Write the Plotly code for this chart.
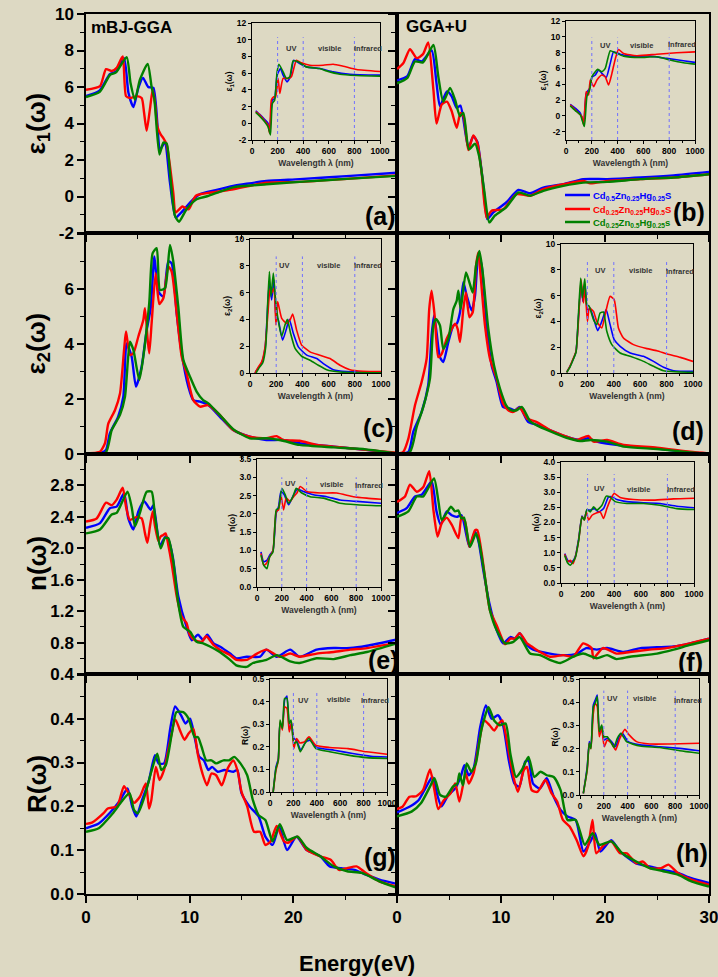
import plotly.graph_objects as go

# ---------------- main panel data: (energy eV, value) ----------------
a_blue = [(0,5.5),(1.3,5.8),(2.3,6.7),(2.9,6.85),(3.67,7.58),(4.1,5.67),(4.57,4.9),(5.05,5.95),(5.5,6.5),(6.0,6.0),(6.5,5.95),(7.15,2.58),(7.6,2.95),(8.1,0.76),(8.65,-1.15),(9.2,-0.87),(10.35,-0.15),(11.0,0.13),(12.5,0.35),(14.2,0.58),(15.5,0.7),(17.4,0.85),(20.6,0.95),(25.5,1.13),(30,1.3)]
a_red = [(0,5.85),(1.35,6.05),(1.93,6.98),(2.48,6.88),(2.96,7.05),(3.54,7.67),(3.86,5.5),(4.24,5.4),(4.89,5.5),(5.37,5.4),(5.6,4.6),(5.85,3.6),(6.17,4.8),(6.43,5.85),(6.66,5.1),(6.88,3.85),(7.2,3.4),(7.46,3.2),(7.78,2.85),(8.1,1.67),(8.42,0.2),(8.65,-0.87),(9.3,-0.55),(9.9,-0.7),(10.6,0.04),(12.5,0.25),(14.2,0.4),(17.4,0.76),(20.6,0.8),(25.5,0.98),(30,1.16)]
a_green = [(0,5.45),(1.35,5.75),(2.33,6.67),(2.9,6.8),(3.92,7.64),(4.3,6.2),(4.73,5.3),(5.2,6.4),(5.95,7.27),(6.33,6.0),(6.6,5.3),(7.08,2.3),(7.46,2.95),(7.78,2.9),(8.1,1.3),(8.58,-1.05),(8.97,-1.38),(9.7,-0.7),(10.67,-0.15),(11.6,0.0),(12.6,0.2),(14.2,0.5),(17.4,0.67),(20.6,0.8),(25.5,0.98),(30,1.13)]

b_blue = [(0,6.36),(1.0,6.6),(1.73,7.53),(2.37,7.4),(3.33,8.0),(3.8,6.2),(4.13,4.95),(4.8,5.76),(5.26,5.49),(5.74,4.85),(6.1,4.98),(6.86,2.67),(7.34,3.3),(7.72,3.0),(8.3,0.58),(8.69,-1.24),(9.26,-0.87),(10.5,-0.33),(11.67,0.36),(12.8,0.18),(14.07,0.49),(16.0,0.67),(17.9,0.95),(20.2,0.95),(23.4,1.04),(26.6,1.16),(30,1.35)]
b_red = [(0,6.98),(0.6,7.3),(1.25,8.07),(1.9,7.58),(2.5,7.8),(3.0,8.44),(3.5,5.85),(3.8,4.0),(4.3,5.04),(4.8,5.2),(5.26,4.67),(5.74,3.76),(6.1,4.58),(6.4,4.4),(6.86,2.55),(7.34,3.35),(7.72,2.95),(8.14,1.3),(8.62,-1.15),(9.1,-0.78),(10.2,-0.7),(11.5,0.13),(12.8,0.04),(14.07,0.4),(16.0,0.67),(17.9,0.85),(18.6,0.72),(20.2,0.85),(23.4,0.95),(26.6,1.04),(30,1.22)]
b_green = [(0,6.2),(1.0,6.5),(1.73,7.4),(2.5,7.35),(3.5,8.3),(3.97,6.58),(4.45,5.2),(5.1,5.95),(5.58,5.3),(6.06,4.4),(6.38,4.58),(6.92,2.58),(7.5,2.9),(7.9,2.2),(8.37,0.4),(8.88,-1.42),(9.4,-1.05),(10.5,-0.6),(11.67,0.22),(12.8,0.04),(14.07,0.31),(16.0,0.58),(17.9,0.76),(20.2,0.8),(23.4,0.95),(26.6,1.04),(30,1.22)]

c_blue = [(0,0.0),(1.35,0.03),(1.93,0.15),(2.3,0.75),(3.1,1.36),(3.6,2.08),(3.92,4.02),(4.4,3.54),(4.82,2.45),(5.37,3.18),(5.85,4.5),(6.24,5.3),(6.6,7.18),(6.98,5.9),(7.46,5.72),(7.94,7.0),(8.26,6.93),(8.75,5.1),(9.23,3.66),(9.87,2.45),(10.35,1.96),(11.0,1.9),(11.8,1.78),(12.9,1.36),(14.2,0.87),(15.8,0.63),(17.4,0.51),(19.0,0.51),(20.6,0.39),(23.9,0.27),(27,0.15),(30,0.02)]
c_red = [(0,0.02),(1.0,0.05),(1.35,0.08),(1.83,0.39),(2.15,1.1),(2.8,1.6),(3.28,2.2),(3.67,3.78),(3.86,4.45),(4.24,3.6),(4.57,3.66),(5.05,4.27),(5.53,4.87),(5.69,5.3),(5.95,4.15),(6.1,3.66),(6.33,4.75),(6.72,6.57),(7.07,5.45),(7.46,5.66),(7.94,6.81),(8.26,6.63),(8.75,5.1),(9.23,3.54),(9.7,2.93),(10.35,1.96),(11.0,1.72),(11.8,1.78),(12.9,1.42),(14.2,0.87),(15.8,0.63),(17.4,0.57),(18.4,0.65),(19.0,0.51),(20.6,0.48),(22.25,0.33),(23.9,0.27),(27,0.15),(30,0.05)]
c_green = [(0,0.0),(1.9,0.05),(2.48,0.87),(3.28,1.42),(3.76,2.08),(4.24,4.08),(4.57,3.78),(5.14,2.69),(5.53,3.54),(6.1,5.48),(6.43,7.3),(6.82,7.48),(7.14,5.96),(7.62,6.02),(8.1,7.6),(8.42,7.0),(8.9,5.36),(9.39,3.42),(10.03,2.81),(10.67,2.27),(11.3,1.96),(11.8,1.84),(12.9,1.42),(14.2,0.9),(15.8,0.57),(17.4,0.57),(19.0,0.48),(20.6,0.33),(23.9,0.24),(27,0.17),(30,0.02)]

d_blue = [(0,0.0),(1.1,0.08),(1.57,0.81),(2.37,1.53),(3.0,2.5),(3.33,4.3),(3.56,5.03),(3.8,4.43),(4.13,3.52),(4.45,3.34),(4.94,4.07),(5.42,4.67),(5.74,4.73),(6.06,5.15),(6.38,6.24),(6.7,5.75),(7.18,5.21),(7.5,5.75),(7.82,7.26),(8.14,6.84),(8.62,4.67),(9.1,3.22),(9.58,2.62),(10.2,1.71),(10.9,1.65),(11.35,1.59),(11.8,1.71),(12.6,1.17),(13.4,1.07),(14.7,0.87),(16.3,0.63),(17.6,0.51),(18.4,0.57),(19.2,0.45),(21.8,0.3),(25,0.2),(28.2,0.06),(30,0.01)]
d_red = [(0,0.0),(0.6,0.08),(1.1,0.57),(1.73,1.77),(2.37,2.62),(2.85,3.46),(3.1,5.27),(3.33,5.93),(3.65,4.91),(3.97,3.52),(4.3,3.64),(4.78,4.19),(5.1,4.43),(5.58,4.73),(5.83,4.55),(6.06,4.07),(6.38,5.27),(6.63,5.87),(6.96,4.97),(7.28,5.15),(7.6,6.84),(7.82,7.32),(8.04,6.48),(8.46,4.67),(8.94,3.46),(9.58,2.74),(10.2,1.83),(10.7,1.59),(11.2,1.53),(11.8,1.68),(12.5,1.29),(13.4,1.17),(14.7,0.87),(16.3,0.63),(17.3,0.51),(18.4,0.66),(18.9,0.45),(20.2,0.51),(21.8,0.33),(25,0.23),(28.2,0.08),(30,0.02)]
d_green = [(0,0.0),(1.25,0.08),(1.9,0.99),(2.53,1.71),(3.17,2.74),(3.5,4.67),(3.75,4.91),(4.13,4.67),(4.45,3.82),(4.94,4.19),(5.42,5.27),(5.74,5.57),(5.9,5.93),(6.12,5.27),(6.63,6.6),(6.96,6.24),(7.28,5.87),(7.6,6.84),(7.92,7.38),(8.24,6.6),(8.78,4.55),(9.33,3.22),(9.9,2.38),(10.5,1.77),(11.0,1.59),(11.5,1.59),(12.0,1.71),(12.8,1.19),(13.4,1.05),(14.7,0.83),(16.3,0.59),(17.6,0.47),(18.6,0.51),(20.2,0.45),(21.8,0.27),(25,0.18),(28.2,0.06),(30,0.0)]

e_blue = [(0,2.26),(1.35,2.32),(2.3,2.51),(2.96,2.53),(3.67,2.7),(4.08,2.38),(4.57,2.24),(5.05,2.47),(5.6,2.6),(6.0,2.53),(6.24,2.49),(6.5,2.55),(7.14,2.04),(7.68,2.15),(7.94,2.11),(8.36,1.9),(8.9,1.39),(9.7,1.0),(10.2,0.83),(10.8,0.9),(11.3,0.83),(11.7,0.9),(12.3,0.79),(12.9,0.75),(13.9,0.66),(14.5,0.6),(15.5,0.62),(16.8,0.62),(17.4,0.71),(18.4,0.62),(19.7,0.71),(20.6,0.62),(22.25,0.71),(23.9,0.73),(25.5,0.73),(27.1,0.76),(30,0.84)]
e_red = [(0,2.34),(1.03,2.38),(1.93,2.58),(2.48,2.55),(2.96,2.62),(3.54,2.77),(3.86,2.53),(4.24,2.36),(4.89,2.4),(5.37,2.38),(5.69,2.19),(5.92,2.07),(6.17,2.28),(6.43,2.47),(6.66,2.28),(6.98,2.09),(7.2,2.15),(7.46,2.17),(7.68,2.19),(7.94,2.04),(8.26,1.81),(8.75,1.39),(9.23,1.13),(9.7,1.05),(10.0,0.9),(10.5,0.83),(11.16,0.81),(11.6,0.88),(12.3,0.77),(12.9,0.71),(13.9,0.64),(14.5,0.58),(15.5,0.58),(16.5,0.66),(17.4,0.71),(18.7,0.62),(19.7,0.66),(20.6,0.62),(22.25,0.66),(23.9,0.68),(25.5,0.71),(27.1,0.73),(30,0.8)]
e_green = [(0,2.19),(1.35,2.24),(2.48,2.43),(2.96,2.45),(4.0,2.72),(4.4,2.53),(4.73,2.28),(5.2,2.45),(5.85,2.72),(6.33,2.72),(6.66,2.4),(7.2,2.0),(7.62,2.13),(7.94,2.13),(8.42,1.83),(8.9,1.3),(9.39,1.0),(10.03,0.94),(10.67,0.81),(11.3,0.79),(11.96,0.75),(12.9,0.68),(13.9,0.58),(14.5,0.51),(15.5,0.49),(16.1,0.54),(17.4,0.58),(18.4,0.64),(19.7,0.56),(20.6,0.54),(22.25,0.6),(23.9,0.59),(25.5,0.64),(27.1,0.68),(30,0.79)]

f_blue = [(0,2.45),(0.93,2.51),(1.73,2.66),(2.37,2.68),(3.33,2.85),(3.8,2.47),(4.2,2.3),(4.78,2.47),(5.26,2.42),(5.74,2.4),(6.2,2.42),(6.96,2.02),(7.5,2.21),(7.82,2.1),(8.3,1.72),(8.88,1.3),(9.58,0.96),(10.2,0.79),(10.9,0.87),(11.35,0.85),(11.8,0.92),(12.5,0.77),(13.1,0.71),(14.7,0.66),(16.0,0.64),(17.3,0.66),(18.2,0.73),(19.2,0.71),(20.2,0.73),(21.8,0.68),(23.4,0.73),(25,0.74),(26.6,0.75),(28.2,0.79),(30,0.85)]
f_red = [(0,2.59),(0.77,2.66),(1.25,2.81),(1.9,2.72),(2.53,2.78),(3.1,2.98),(3.5,2.49),(3.9,2.15),(4.3,2.32),(4.78,2.39),(5.26,2.3),(5.9,2.13),(6.2,2.4),(6.54,2.34),(6.96,2.02),(7.5,2.23),(7.72,2.23),(8.14,1.94),(8.62,1.47),(8.94,1.21),(9.58,1.02),(10.4,0.78),(10.9,0.85),(11.35,0.85),(11.8,0.92),(12.5,0.79),(12.95,0.75),(13.75,0.68),(14.7,0.62),(16.0,0.64),(16.95,0.62),(17.9,0.79),(18.7,0.73),(18.9,0.6),(19.8,0.73),(21.1,0.66),(22.4,0.68),(24.3,0.71),(25.9,0.73),(27.5,0.77),(30,0.85)]
f_green = [(0,2.4),(1.09,2.47),(1.9,2.66),(2.53,2.66),(3.56,2.89),(3.97,2.61),(4.3,2.36),(4.78,2.45),(5.19,2.53),(5.58,2.47),(5.9,2.48),(6.2,2.38),(6.44,2.39),(7.02,2.02),(7.6,2.19),(7.92,2.06),(8.4,1.68),(8.94,1.21),(9.58,0.96),(10.4,0.79),(11.2,0.81),(11.8,0.87),(12.8,0.66),(13.75,0.64),(14.7,0.58),(15.7,0.54),(16.95,0.62),(17.9,0.66),(19.2,0.6),(20.2,0.64),(21.1,0.59),(22.4,0.62),(25,0.66),(26.6,0.71),(28.2,0.77),(30,0.83)]

g_blue = [(0,0.15),(1.23,0.161),(2.33,0.186),(3.3,0.214),(4.0,0.241),(4.45,0.2),(4.85,0.177),(5.4,0.214),(6.08,0.26),(6.65,0.317),(7.0,0.298),(7.53,0.298),(8.15,0.381),(8.6,0.428),(9.16,0.408),(9.6,0.389),(10.04,0.4),(10.48,0.358),(10.9,0.314),(11.37,0.305),(11.8,0.283),(12.16,0.29),(12.7,0.279),(13.35,0.283),(14.23,0.279),(14.6,0.283),(15.0,0.23),(15.77,0.2),(16.65,0.177),(17.3,0.131),(18.0,0.112),(18.63,0.154),(19.4,0.1),(20.3,0.131),(21.3,0.1),(22.6,0.086),(23.5,0.063),(24.6,0.059),(25.9,0.055),(27.0,0.044),(28.3,0.033),(30,0.023)]
g_red = [(0,0.16),(0.57,0.163),(1.67,0.184),(2.1,0.195),(3.0,0.2),(3.66,0.246),(4.1,0.23),(4.63,0.208),(5.2,0.222),(5.77,0.252),(6.08,0.195),(6.3,0.214),(6.74,0.29),(7.1,0.26),(7.53,0.283),(8.06,0.343),(8.63,0.398),(9.07,0.373),(9.5,0.352),(9.9,0.366),(10.35,0.377),(10.8,0.317),(11.23,0.275),(11.67,0.248),(12.1,0.275),(12.55,0.271),(13.1,0.248),(13.66,0.286),(14.2,0.305),(14.6,0.283),(15.0,0.233),(15.55,0.2),(16.2,0.142),(16.8,0.142),(17.3,0.112),(17.8,0.12),(18.4,0.155),(19.1,0.12),(19.5,0.117),(20.4,0.131),(21.3,0.1),(22.6,0.086),(23.6,0.078),(24.4,0.055),(25.2,0.059),(26.1,0.063),(27.0,0.048),(28.3,0.029),(30,0.017)]
g_green = [(0,0.142),(1.23,0.15),(2.55,0.183),(3.44,0.211),(4.2,0.23),(4.63,0.192),(5.0,0.184),(5.64,0.222),(6.3,0.279),(6.87,0.32),(7.27,0.283),(7.7,0.294),(8.28,0.366),(8.72,0.415),(9.38,0.415),(9.9,0.4),(10.48,0.358),(10.8,0.358),(11.15,0.336),(11.6,0.305),(12.1,0.305),(12.55,0.298),(13.26,0.305),(13.8,0.305),(14.3,0.313),(14.9,0.298),(15.55,0.271),(16.1,0.214),(16.65,0.18),(17.3,0.169),(18.0,0.12),(18.7,0.159),(19.4,0.123),(20.4,0.131),(21.3,0.105),(22.6,0.086),(23.9,0.063),(25.2,0.052),(26.6,0.048),(28.3,0.029),(30,0.014)]

h_blue = [(0,0.186),(1.2,0.199),(2.07,0.214),(2.73,0.241),(3.4,0.267),(3.83,0.23),(4.27,0.2),(4.93,0.226),(5.6,0.241),(6.17,0.271),(6.48,0.294),(6.9,0.271),(7.36,0.286),(8.0,0.381),(8.55,0.43),(9.1,0.4),(9.7,0.408),(10.2,0.385),(10.75,0.305),(11.3,0.252),(11.76,0.245),(12.33,0.302),(12.64,0.305),(13.08,0.252),(13.74,0.241),(14.4,0.264),(15.07,0.222),(15.73,0.192),(16.4,0.177),(17.18,0.169),(17.93,0.097),(18.6,0.12),(19.03,0.139),(19.56,0.097),(20.6,0.123),(21.45,0.097),(23.0,0.07),(24.3,0.063),(25.6,0.055),(27.0,0.048),(28.3,0.036),(30,0.025)]
h_red = [(0,0.194),(0.53,0.199),(1.2,0.222),(1.85,0.223),(2.5,0.237),(3.17,0.284),(3.6,0.237),(3.96,0.194),(4.5,0.214),(5.15,0.23),(5.6,0.252),(6.0,0.211),(6.6,0.275),(6.9,0.252),(7.36,0.275),(7.93,0.351),(8.37,0.396),(8.9,0.385),(9.34,0.373),(9.8,0.389),(10.13,0.396),(10.66,0.336),(11.2,0.267),(11.63,0.233),(12.2,0.283),(12.5,0.29),(12.95,0.237),(13.5,0.233),(14.27,0.26),(14.85,0.23),(15.4,0.211),(15.95,0.169),(16.6,0.154),(17.27,0.123),(17.93,0.086),(18.37,0.108),(18.8,0.169),(19.16,0.093),(19.9,0.112),(20.6,0.12),(21.45,0.093),(22.1,0.093),(23.0,0.07),(23.65,0.074),(24.3,0.059),(25.4,0.059),(26.1,0.067),(27.0,0.048),(28.3,0.033),(30,0.021)]
h_green = [(0,0.177),(1.4,0.188),(2.3,0.207),(3.17,0.245),(3.6,0.264),(4.14,0.226),(4.7,0.222),(5.37,0.245),(5.8,0.252),(6.0,0.275),(6.34,0.248),(6.7,0.298),(7.14,0.279),(7.58,0.298),(8.1,0.373),(8.8,0.426),(9.34,0.396),(9.87,0.385),(10.44,0.389),(10.9,0.32),(11.45,0.267),(12.0,0.283),(12.64,0.313),(13.2,0.267),(13.8,0.279),(14.4,0.271),(15.07,0.267),(15.73,0.237),(16.4,0.169),(17.18,0.169),(18.06,0.112),(18.8,0.139),(19.47,0.112),(20.6,0.12),(21.67,0.093),(23.0,0.074),(24.3,0.059),(25.6,0.052),(27.0,0.044),(28.3,0.029),(30,0.017)]

# ---------------- inset data: (wavelength nm, value) ----------------
ia_blue = [(29,1.5),(60,1.06),(99,0.46),(125,0.0),(138,-1.0),(159,2.77),(177,2.97),(196,5.76),(222,6.55),(243,5.76),(274,4.96),(300,5.56),(326,7.55),(373,7.15),(425,6.75),(530,6.55),(634,6.15),(765,5.87),(1000,5.76)]
ia_red = [(29,1.38),(60,1.0),(99,0.3),(125,-0.2),(138,-1.2),(151,2.77),(170,3.17),(185,3.17),(204,5.36),(217,3.57),(243,5.36),(282,5.36),(308,5.56),(347,7.55),(386,7.23),(452,6.95),(556,6.95),(634,7.07),(713,6.83),(817,6.43),(1000,6.19)]
ia_green = [(29,1.3),(60,0.86),(99,0.19),(125,-0.4),(144,-1.4),(159,2.37),(177,2.77),(196,6.15),(211,7.07),(243,6.15),(269,5.36),(295,5.56),(321,7.47),(360,7.35),(425,6.75),(530,6.55),(582,6.27),(687,5.87),(817,5.72),(1000,5.64)]

ib_blue = [(33,1.47),(72,0.97),(111,0.34),(137,-0.92),(157,2.86),(183,3.49),(201,4.87),(227,5.17),(253,5.8),(278,5.38),(312,4.87),(343,6.64),(369,8.1),(420,7.8),(497,7.56),(652,7.56),(781,7.27),(910,6.97),(1000,6.76)]
ib_red = [(33,1.39),(72,0.76),(98,0.34),(124,-0.08),(137,-1.13),(157,3.07),(175,2.65),(188,4.54),(214,3.7),(240,4.54),(278,5.17),(304,4.96),(330,3.9),(356,5.38),(381,7.14),(407,8.4),(446,7.9),(549,7.6),(704,7.8),(858,7.98),(1000,8.1)]
ib_green = [(33,1.26),(72,0.67),(111,0.13),(142,-1.34),(162,2.44),(183,3.28),(201,4.96),(227,5.59),(245,5.88),(278,5.59),(304,6.0),(343,8.24),(381,7.98),(446,7.56),(575,7.39),(704,7.48),(807,7.06),(910,6.72),(1000,6.55)]

ic_blue = [(38,0),(64,0.4),(89,0.75),(115,1.83),(135,4.95),(148,6.83),(165,5.45),(183,6.95),(198,4.33),(216,3.95),(249,2.45),(275,3.2),(300,4.0),(331,2.95),(369,1.95),(433,1.33),(509,1.08),(560,0.7),(636,0.25),(738,0.1),(1000,0.05)]
ic_red = [(38,0),(64,0.45),(89,0.83),(115,1.95),(135,4.2),(153,6.33),(165,5.95),(183,6.33),(198,3.58),(211,5.33),(242,4.08),(280,3.7),(305,3.95),(326,4.4),(356,3.2),(394,2.08),(458,1.58),(534,1.33),(611,1.08),(687,0.58),(763,0.25),(865,0.13),(1000,0.1)]
ic_green = [(46,0),(71,0.4),(97,0.75),(120,1.95),(135,5.2),(148,7.58),(160,5.7),(178,7.45),(193,5.7),(211,4.2),(242,2.75),(267,3.58),(285,4.0),(310,2.95),(344,1.83),(394,1.25),(458,0.95),(522,0.58),(585,0.25),(687,0.08),(1000,0.02)]

id_blue = [(43,0.05),(68,0.52),(94,1.1),(114,1.68),(132,4.26),(152,6.98),(165,5.56),(182,6.85),(200,4.78),(220,5.04),(246,4.26),(278,3.28),(309,4.0),(342,4.91),(372,3.75),(403,2.58),(448,2.07),(524,1.55),(625,1.29),(701,0.9),(777,0.44),(853,0.18),(1000,0.13)]
id_red = [(43,0.05),(68,0.52),(94,1.16),(114,1.68),(132,4.0),(152,7.24),(170,5.43),(182,6.59),(200,4.0),(215,5.04),(246,4.78),(271,4.0),(309,3.49),(334,4.52),(372,5.94),(403,5.68),(435,3.49),(473,2.71),(549,2.2),(651,1.89),(727,1.73),(803,1.47),(904,1.21),(1000,0.9)]
id_green = [(43,0.05),(68,0.46),(94,1.08),(114,1.63),(132,4.52),(149,7.36),(162,5.81),(180,7.31),(195,5.3),(213,5.17),(246,4.13),(271,3.75),(296,4.65),(322,4.73),(347,3.23),(385,2.2),(448,1.55),(524,1.29),(625,0.9),(701,0.52),(777,0.18),(1000,0.05)]

ie_blue = [(32,0.96),(54,0.69),(80,0.73),(102,0.87),(129,1.0),(155,2.02),(174,2.2),(193,2.61),(220,2.52),(255,2.25),(295,2.52),(327,2.68),(375,2.61),(456,2.52),(563,2.47),(670,2.38),(804,2.34),(1000,2.29)]
ie_red = [(32,0.92),(54,0.6),(75,0.64),(102,0.82),(129,1.0),(155,2.06),(174,2.11),(193,2.52),(214,2.11),(236,2.43),(268,2.34),(295,2.47),(322,2.57),(349,2.75),(402,2.61),(509,2.57),(643,2.57),(777,2.47),(885,2.43),(1000,2.4)]
ie_green = [(32,0.87),(54,0.6),(80,0.5),(102,0.82),(129,0.96),(155,2.11),(174,2.15),(201,2.7),(228,2.52),(255,2.29),(290,2.47),(316,2.7),(362,2.57),(429,2.47),(536,2.43),(670,2.29),(804,2.25),(1000,2.22)]

if_blue = [(28,0.97),(50,0.75),(70,0.7),(90,0.73),(108,0.88),(133,1.47),(158,2.21),(175,2.1),(195,2.41),(220,2.41),(250,2.46),(283,2.35),(320,2.46),(358,2.85),(383,2.85),(420,2.76),(495,2.69),(620,2.65),(745,2.63),(870,2.54),(1000,2.49)]
if_red = [(28,0.95),(50,0.7),(70,0.75),(90,0.64),(108,0.86),(133,1.41),(158,2.19),(175,2.08),(190,2.35),(208,2.08),(233,2.24),(270,2.32),(295,2.35),(320,2.13),(345,2.46),(370,2.74),(400,2.96),(445,2.83),(545,2.76),(695,2.74),(845,2.78),(1000,2.8)]
if_green = [(28,0.91),(50,0.66),(70,0.59),(90,0.7),(108,0.84),(133,1.41),(158,2.19),(175,2.08),(195,2.43),(220,2.35),(245,2.52),(270,2.41),(308,2.57),(340,2.87),(370,2.83),(408,2.69),(495,2.63),(620,2.63),(745,2.57),(870,2.46),(1000,2.43)]

ig_blue = [(27,0.0),(51,0.11),(71,0.148),(86,0.303),(106,0.29),(125,0.407),(145,0.425),(165,0.274),(184,0.303),(204,0.237),(227,0.229),(263,0.185),(306,0.222),(345,0.229),(400,0.197),(549,0.185),(706,0.17),(863,0.158),(1000,0.155)]
ig_red = [(27,0.0),(51,0.096),(71,0.14),(86,0.31),(106,0.274),(125,0.377),(145,0.37),(165,0.266),(184,0.31),(204,0.192),(227,0.237),(255,0.217),(294,0.222),(333,0.244),(392,0.207),(510,0.197),(667,0.192),(824,0.178),(1000,0.167)]
ig_green = [(27,0.0),(51,0.104),(71,0.14),(86,0.318),(106,0.281),(125,0.414),(145,0.414),(165,0.303),(180,0.318),(204,0.215),(227,0.222),(259,0.178),(298,0.215),(333,0.237),(392,0.192),(510,0.178),(667,0.163),(824,0.152),(1000,0.148)]

ih_blue = [(28,0.007),(47,0.072),(61,0.122),(78,0.23),(92,0.208),(112,0.388),(128,0.409),(145,0.431),(162,0.28),(182,0.295),(201,0.237),(229,0.244),(265,0.23),(299,0.208),(335,0.259),(357,0.266),(405,0.23),(503,0.216),(670,0.208),(838,0.201),(1000,0.191)]
ih_red = [(28,0.007),(47,0.065),(61,0.108),(78,0.223),(92,0.2),(112,0.352),(128,0.395),(145,0.381),(162,0.251),(182,0.287),(204,0.208),(229,0.237),(265,0.223),(299,0.194),(335,0.244),(377,0.283),(413,0.259),(475,0.23),(587,0.22),(754,0.22),(1000,0.223)]
ih_green = [(28,0.007),(47,0.065),(61,0.115),(78,0.223),(92,0.2),(112,0.381),(128,0.395),(145,0.424),(162,0.273),(182,0.302),(201,0.251),(229,0.251),(265,0.223),(285,0.205),(313,0.244),(343,0.266),(391,0.23),(503,0.211),(670,0.205),(838,0.191),(1000,0.18)]

# ---------------- labels ----------------
SERIES_NAMES = [
    "Cd<sub>0.5</sub>Zn<sub>0.25</sub>Hg<sub>0.25</sub>S",
    "Cd<sub>0.25</sub>Zn<sub>0.25</sub>Hg<sub>0.5</sub>S",
    "Cd<sub>0.25</sub>Zn<sub>0.5</sub>Hg<sub>0.25</sub>s",
]
COLORS = ["#0000FF", "#FF0000", "#008000"]
ROW_TITLES = ["ε<sub>1</sub>(ω)", "ε<sub>2</sub>(ω)", "n(ω)", "R(ω)"]
PANEL_LETTERS = ["(a)", "(b)", "(c)", "(d)", "(e)", "(f)", "(g)", "(h)"]
REGION_LABELS = ["UV", "visible", "Infrared"]
REGION_BOUNDS = [200, 400, 800]
ENERGY_TICKS = [0, 10, 20, 30]
WAVE_TICKS = [0, 200, 400, 600, 800, 1000]

# ---------------- layout geometry ----------------
W, H = 718, 977
BG = "#DDD9C3"
FONT = "Liberation Sans, Arial, sans-serif"

def fx(p):
    return p / W

def fy(p):
    return 1 - p / H

XCOL = [(86, 397), (397, 709)]
YROW = [(14, 233), (233, 454), (454, 674), (674, 894)]
ROWCFG = [
    dict(range=[-2, 10], tv=[-2, 0, 2, 4, 6, 8, 10], tt=["-2", "0", "2", "4", "6", "8", "10"], minor=[-1, 1, 3, 5, 7, 9]),
    dict(range=[0, 8.03], tv=[0, 2, 4, 6, 8], tt=["0", "2", "4", "6", ""], minor=[1, 3, 5, 7]),
    dict(range=[0.4, 3.2], tv=[0.4, 0.8, 1.2, 1.6, 2.0, 2.4, 2.8, 3.2], tt=["0.4", "0.8", "1.2", "1.6", "2.0", "2.4", "2.8", ""], minor=[0.6, 1.0, 1.4, 1.8, 2.2, 2.6, 3.0]),
    dict(range=[0, 0.502], tv=[0, 0.1, 0.2, 0.3, 0.4, 0.5], tt=["0.0", "0.1", "0.2", "0.3", "0.4", ""], minor=[0.05, 0.15, 0.25, 0.35, 0.45]),
]
MAIN = [
    (0, 0, [a_blue, a_red, a_green]), (1, 0, [b_blue, b_red, b_green]),
    (0, 1, [c_blue, c_red, c_green]), (1, 1, [d_blue, d_red, d_green]),
    (0, 2, [e_blue, e_red, e_green]), (1, 2, [f_blue, f_red, f_green]),
    (0, 3, [g_blue, g_red, g_green]), (1, 3, [h_blue, h_red, h_green]),
]
LETTER_POS = [(380, 216), (689, 212), (378, 428), (688, 431), (383, 660), (690, 662), (380, 857), (692, 853)]
LEGEND_ROWS = [195, 209, 222]

INSETS = [
    dict(box=(252, 380, 23, 140), yr=[-2, 12], tv=list(range(-2, 13, 2)), fmt="", title=ROW_TITLES[0], vtop=10.3,
         lab=[(308, 9.0), (608, 9.0), (903, 8.9)], s=[ia_blue, ia_red, ia_green]),
    dict(box=(566, 695, 21, 140), yr=[-3.05, 12], tv=list(range(-2, 13, 2)), fmt="", title=ROW_TITLES[0], vtop=9.9,
         lab=[(300, 8.95), (588, 8.95), (897, 9.0)], s=[ib_blue, ib_red, ib_green]),
    dict(box=(250, 381, 239, 373), yr=[0, 10], tv=list(range(0, 11, 2)), fmt="", title=ROW_TITLES[1], vtop=8.7,
         lab=[(260, 8.0), (603, 8.0), (898, 8.0)], s=[ic_blue, ic_red, ic_green]),
    dict(box=(561, 693, 244, 373), yr=[0, 10], tv=list(range(0, 11, 2)), fmt="", title=ROW_TITLES[1], vtop=8.6,
         lab=[(296, 7.96), (600, 7.96), (899, 7.83)], s=[id_blue, id_red, id_green]),
    dict(box=(257, 381, 459, 587), yr=[0, 3.5], tv=[0, 0.5, 1, 1.5, 2, 2.5, 3, 3.5], fmt=".1f", title=ROW_TITLES[2], vtop=3.0,
         lab=[(268, 2.84), (603, 2.81), (906, 2.78)], s=[ie_blue, ie_red, ie_green]),
    dict(box=(561, 694, 462, 583), yr=[0, 4], tv=[0, 0.5, 1, 1.5, 2, 2.5, 3, 3.5, 4], fmt=".1f", title=ROW_TITLES[2], vtop=3.6,
         lab=[(288, 3.13), (583, 3.09), (903, 3.09)], s=[if_blue, if_red, if_green]),
    dict(box=(270, 387, 679, 792), yr=[0, 0.5], tv=[0, 0.1, 0.2, 0.3, 0.4, 0.5], fmt=".1f", title=ROW_TITLES[3], vtop=0.44,
         lab=[(286, 0.407), (588, 0.41), (894, 0.404)], s=[ig_blue, ig_red, ig_green]),
    dict(box=(580, 699, 679, 795), yr=[0, 0.5], tv=[0, 0.1, 0.2, 0.3, 0.4, 0.5], fmt=".1f", title=ROW_TITLES[3], vtop=0.45,
         lab=[(271, 0.414), (539, 0.414), (908, 0.407)], s=[ih_blue, ih_red, ih_green]),
]

fig = go.Figure()
layout = {}
annotations = []
shapes = []

def akey(prefix, i):
    return prefix if i == 1 else f"{prefix}{i}"

def aref(prefix, i):
    return prefix if i == 1 else f"{prefix}{i}"

# ---- main panels ----
for k, (col, row, series) in enumerate(MAIN):
    i = k + 1
    x0, x1 = XCOL[col]
    y0, y1 = YROW[row]
    rc = ROWCFG[row]
    bottom = row == 3
    layout[akey("xaxis", i)] = dict(
        domain=[fx(x0), fx(x1)], range=[0, 30], anchor=aref("y", i), automargin=False,
        tickmode="array", tickvals=ENERGY_TICKS,
        ticktext=[str(v) if (bottom and not (col == 0 and v == 30)) else "" for v in ENERGY_TICKS],
        ticklabeloverflow="allow",
        ticks="outside", ticklen=7, tickwidth=1.5, tickcolor="black",
        minor=dict(tickvals=[5, 15, 25], ticks="outside", ticklen=4, tickwidth=1.2, tickcolor="black"),
        showline=True, linecolor="black", linewidth=1.5, mirror=True,
        showgrid=False, zeroline=False,
        tickfont=dict(family=FONT, size=17, color="black", weight="bold"),
    )
    layout[akey("yaxis", i)] = dict(
        domain=[fy(y1), fy(y0)], range=rc["range"], anchor=aref("x", i), automargin=False,
        tickmode="array", tickvals=rc["tv"], ticktext=rc["tt"],
        showticklabels=(col == 0), ticklabeloverflow="allow",
        ticks="outside", ticklen=7, tickwidth=1.5, tickcolor="black",
        minor=dict(tickvals=rc["minor"], ticks="outside", ticklen=4, tickwidth=1.2, tickcolor="black"),
        showline=True, linecolor="black", linewidth=1.5, mirror=True,
        showgrid=False, zeroline=False,
        tickfont=dict(family=FONT, size=17, color="black", weight="bold"),
    )
    for j, s in enumerate(series):
        fig.add_trace(go.Scatter(
            x=[p[0] for p in s], y=[p[1] for p in s],
            xaxis=aref("x", i), yaxis=aref("y", i), mode="lines",
            line=dict(color=COLORS[j], width=2.4, shape="spline", smoothing=0.6),
            name=SERIES_NAMES[j], showlegend=False, hoverinfo="skip",
        ))
    lx, ly = LETTER_POS[k]
    annotations.append(dict(text="<b>" + PANEL_LETTERS[k] + "</b>", x=fx(lx), y=fy(ly), xref="paper", yref="paper",
                            showarrow=False, xanchor="center", yanchor="middle",
                            font=dict(family=FONT, size=25, color="black")))

# ---- legend (drawn in panel b) ----
for j, yl in enumerate(LEGEND_ROWS):
    shapes.append(dict(type="line", xref="paper", yref="paper", x0=fx(565), x1=fx(590), y0=fy(yl), y1=fy(yl),
                       line=dict(color=COLORS[j], width=2.5)))
    annotations.append(dict(text="<b>" + SERIES_NAMES[j] + "</b>", x=fx(591), y=fy(yl + 1), xref="paper", yref="paper",
                            showarrow=False, xanchor="left", yanchor="middle",
                            font=dict(family=FONT, size=9.5, color=COLORS[j])))

# ---- insets ----
for k, ins in enumerate(INSETS):
    i = 9 + k
    bx0, bx1, by0, by1 = ins["box"]
    layout[akey("xaxis", i)] = dict(
        domain=[fx(bx0), fx(bx1)], range=[0, 1000], anchor=aref("y", i), automargin=False,
        tickmode="array", tickvals=WAVE_TICKS, ticktext=[str(v) for v in WAVE_TICKS],
        ticklabeloverflow="allow",
        ticks="outside", ticklen=3, tickwidth=1, tickcolor="black",
        minor=dict(tickvals=[100, 300, 500, 700, 900], ticks="outside", ticklen=2, tickwidth=1, tickcolor="black"),
        showline=True, linecolor="black", linewidth=1, mirror=True,
        showgrid=False, zeroline=False,
        tickfont=dict(family=FONT, size=8.5, color="black", weight="bold"),
        title=dict(text="Wavelength <b>λ</b> (nm)", standoff=4,
                   font=dict(family=FONT, size=8.5, color="#333333", weight="bold")),
    )
    layout[akey("yaxis", i)] = dict(
        domain=[fy(by1), fy(by0)], range=ins["yr"], anchor=aref("x", i), automargin=False,
        tickmode="array", tickvals=ins["tv"],
        ticktext=[format(v, ins["fmt"]) if ins["fmt"] else str(v) for v in ins["tv"]],
        ticklabeloverflow="allow",
        ticks="outside", ticklen=3, tickwidth=1, tickcolor="black",
        showline=True, linecolor="black", linewidth=1, mirror=True,
        showgrid=False, zeroline=False,
        tickfont=dict(family=FONT, size=8.5, color="black", weight="bold"),
        title=dict(text=ins["title"], standoff=2,
                   font=dict(family=FONT, size=8.5, color="black", weight="bold")),
    )
    for xb in REGION_BOUNDS:
        shapes.append(dict(type="line", xref=aref("x", i), yref=aref("y", i),
                           x0=xb, x1=xb, y0=ins["yr"][0], y1=ins["vtop"],
                           line=dict(color="#7070ff", width=1, dash="dot")))
    for (lxv, lyv), txt in zip(ins["lab"], REGION_LABELS):
        annotations.append(dict(text="<b>" + txt + "</b>", x=lxv, y=lyv, xref=aref("x", i), yref=aref("y", i),
                                showarrow=False, xanchor="center", yanchor="middle",
                                font=dict(family=FONT, size=7.5, color="#333333")))
    for j, s in enumerate(ins["s"]):
        fig.add_trace(go.Scatter(
            x=[p[0] for p in s], y=[p[1] for p in s],
            xaxis=aref("x", i), yaxis=aref("y", i), mode="lines",
            line=dict(color=COLORS[j], width=1.6, shape="spline", smoothing=0.5),
            showlegend=False, hoverinfo="skip",
        ))

# ---- titles ----
for r, t in enumerate(ROW_TITLES):
    yc = (YROW[r][0] + YROW[r][1]) / 2
    annotations.append(dict(text="<b>" + t + "</b>", x=fx(37), y=fy(yc), xref="paper", yref="paper",
                            showarrow=False, textangle=-90, xanchor="center", yanchor="middle",
                            font=dict(family=FONT, size=26, color="black")))
annotations.append(dict(text="<b>Energy(eV)</b>", x=fx(357), y=fy(963), xref="paper", yref="paper",
                        showarrow=False, xanchor="center", yanchor="middle",
                        font=dict(family=FONT, size=22, color="black")))
annotations.append(dict(text="<b>mBJ-GGA</b>", x=fx(89), y=fy(28), xref="paper", yref="paper",
                        showarrow=False, xanchor="left", yanchor="middle",
                        font=dict(family=FONT, size=17, color="black")))
annotations.append(dict(text="<b>GGA+U</b>", x=fx(404), y=fy(27), xref="paper", yref="paper",
                        showarrow=False, xanchor="left", yanchor="middle",
                        font=dict(family=FONT, size=17, color="black")))

fig.update_layout(
    width=W, height=H, autosize=False,
    margin=dict(l=0, r=0, t=0, b=0, autoexpand=False),
    paper_bgcolor=BG, plot_bgcolor=BG,
    showlegend=False,
    annotations=annotations, shapes=shapes,
    **layout,
)

fig.write_html("out.html", config={"displayModeBar": False},
               post_script="document.body.style.margin='0';document.body.style.overflow='hidden';")
